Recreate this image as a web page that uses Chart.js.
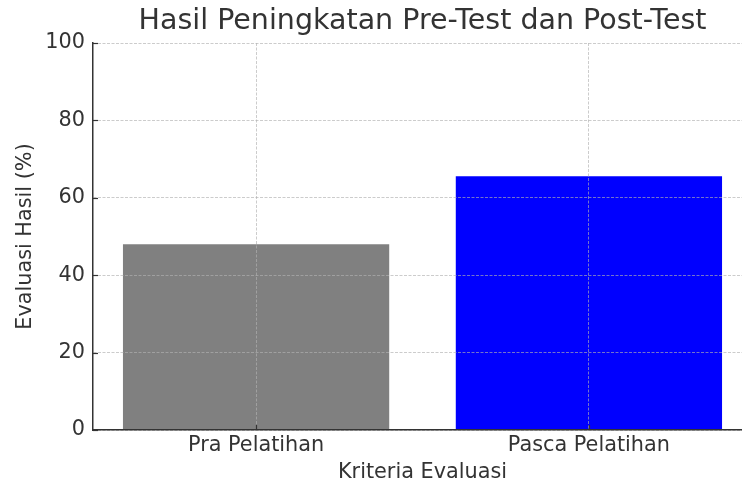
<!DOCTYPE html>
<html>
<head>
<meta charset="utf-8">
<script src="https://cdn.jsdelivr.net/npm/chart.js@4.4.1/dist/chart.umd.min.js"></script>
<style>
  html, body { margin: 0; padding: 0; background: #ffffff; overflow: hidden; }
  #wrap { position: relative; width: 752px; height: 486px; }
</style>
</head>
<body>
<div id="wrap"><canvas id="c"></canvas></div>
<script>
// ---- data ----
const categories = ['Pra Pelatihan', 'Pasca Pelatihan'];
const values = [48, 65.6];
const barColors = ['#808080', '#0000ff'];
const yTicks = [0, 20, 40, 60, 80, 100];

const titleText = 'Hasil Peningkatan Pre-Test dan Post-Test';
const xTitle = 'Kriteria Evaluasi';
const yTitle = 'Evaluasi Hasil (%)';

const FONT = 'DejaVu Sans';
const TEXT = '#333333';
const GRID = 'rgba(176,176,176,0.65)';
const DASH = [3, 1.5];

const innerTicks = {
  id: 'innerTicks',
  afterDraw(chart) {
    const { ctx, chartArea, scales: { x, y } } = chart;
    ctx.save();
    ctx.strokeStyle = '#333333';
    ctx.lineWidth = 1.2;
    y.ticks.forEach(t => {
      const py = Math.round(y.getPixelForValue(t.value)) + 0.5;
      ctx.beginPath();
      ctx.moveTo(chartArea.left, py);
      ctx.lineTo(chartArea.left + 5, py);
      ctx.stroke();
    });
    x.ticks.forEach(t => {
      const px = Math.round(x.getPixelForValue(t.value)) + 0.5;
      ctx.beginPath();
      ctx.moveTo(px, chartArea.bottom);
      ctx.lineTo(px, chartArea.bottom - 5);
      ctx.stroke();
    });
    ctx.restore();
  }
};

new Chart(document.getElementById('c'), {
  type: 'bar',
  data: {
    datasets: [{
      data: values.map((v, i) => ({ x: i, y: v })),
      backgroundColor: barColors,
      borderWidth: 0,
      barPercentage: 0.8,
      categoryPercentage: 1.0
    }]
  },
  options: {
    responsive: true,
    maintainAspectRatio: false,
    animation: false,
    layout: { padding: 0 },
    plugins: {
      legend: { display: false },
      tooltip: { enabled: false },
      title: {
        display: true,
        text: titleText,
        fullSize: false,
        color: TEXT,
        font: { family: FONT, size: 28.5, weight: 'normal' },
        padding: { top: 4.0, bottom: 4.8 }
      }
    },
    scales: {
      x: {
        type: 'linear',
        min: -0.49,
        max: 1.49,
        offset: false,
        afterBuildTicks: s => { s.ticks = categories.map((_, i) => ({ value: i })); },
        afterFit: s => { s.height = 56; },
        ticks: {
          color: TEXT,
          font: { family: FONT, size: 20.8 },
          padding: 3,
          maxRotation: 0,
          autoSkip: false,
          callback: v => categories[v]
        },
        grid: { color: GRID, lineWidth: 1, drawTicks: false, offset: false, z: 1 },
        border: { display: true, color: '#333333', width: 1.5, dash: DASH, z: 2 },
        title: {
          display: true,
          text: xTitle,
          color: TEXT,
          font: { family: FONT, size: 20.8 },
          padding: { top: 0, bottom: 1 }
        }
      },
      y: {
        min: 0,
        max: 100,
        afterBuildTicks: s => { s.ticks = yTicks.map(v => ({ value: v })); },
        afterFit: s => { s.width = 93; },
        ticks: {
          color: TEXT,
          font: { family: FONT, size: 20.8 },
          padding: 8
        },
        grid: { color: GRID, lineWidth: 1, drawTicks: false, z: 1 },
        border: { display: true, color: '#333333', width: 1.5, dash: DASH, z: 2 },
        title: {
          display: true,
          text: yTitle,
          color: TEXT,
          font: { family: FONT, size: 20.8 },
          padding: { top: 13.6, bottom: 0 }
        }
      }
    }
  },
  plugins: [innerTicks]
});
</script>
</body>
</html>
